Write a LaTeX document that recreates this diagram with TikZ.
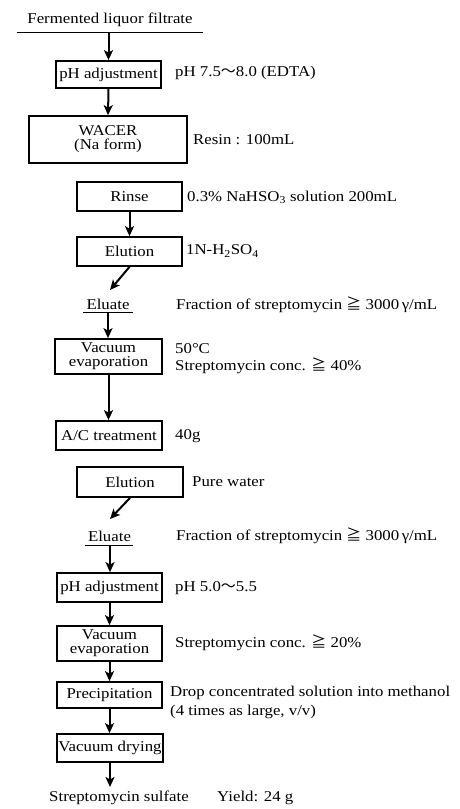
\documentclass[tikz,border=0pt]{standalone}
\usepackage{fontspec}
\setmainfont{Liberation Serif}[FakeStretch=1.12]
\newfontfamily\cjk{Noto Sans CJK JP}
\usetikzlibrary{arrows.meta}
\newcommand{\wave}{{\cjk 〜}}
\newcommand{\geqq}{{\cjk ≧}}
\begin{document}
\begin{tikzpicture}[x=1pt,y=-1pt,
  font=\fontsize{15}{14}\selectfont,
  box/.style={draw, line width=1.7pt, inner sep=0pt, align=center, minimum width=105pt},
  lbl/.style={anchor=west, inner sep=0pt, align=left},
  txt/.style={inner sep=0pt, align=center},
  arr/.style={line width=2pt, -{Stealth[length=10pt,width=9pt,inset=2.5pt]}},
  uline/.style={line width=1pt}]
\useasboundingbox (0,0) rectangle (460,809);

% top
\node[txt] (feed) at (110,20) {Fermented liquor filtrate};
\coordinate (fl) at (17,32);
\coordinate (fr) at (203,32);
\coordinate (fa) at (108.5,33);
\draw[uline] (fl) -- (fr);

% boxes
\node[box, minimum height=27pt] (ph1) at (108.5,74.5) {pH adjustment};
\node[box, minimum width=158pt, minimum height=47pt] (wacer) at (108,139.5) {WACER\\(Na form)};
\node[box, minimum height=29pt] (rinse) at (129.5,196.5) {Rinse};
\node[box, minimum height=29pt] (elu1) at (129.5,251.5) {Elution};
\node[txt] (eluate1) at (108,304) {Eluate};
\coordinate (e1a) at (110,290);
\coordinate (e1l) at (83,312);
\coordinate (e1r) at (133,312);
\coordinate (e1b) at (108,313);
\draw[uline] (e1l) -- (e1r);
\node[box, minimum width=107pt, minimum height=35pt] (vac1) at (108.5,356.5) {Vacuum\\evaporation};
\node[box, minimum width=106pt, minimum height=29pt] (ac) at (109,435.5) {A/C treatment};
\node[box, minimum width=106pt, minimum height=30pt] (elu2) at (130,482) {Elution};
\node[txt] (eluate2) at (109.5,536) {Eluate};
\coordinate (e2a) at (110,519);
\coordinate (e2l) at (85,545);
\coordinate (e2r) at (133,545);
\coordinate (e2b) at (110,545);
\draw[uline] (e2l) -- (e2r);
\node[box, minimum height=29pt] (ph2) at (109.5,587.5) {pH adjustment};
\node[box, minimum height=35pt] (vac2) at (109.5,643.5) {Vacuum\\evaporation};
\node[box, minimum height=26pt] (prec) at (109.5,695) {Precipitation};
\node[box, minimum width=106pt, minimum height=28pt] (dry) at (110,748) {Vacuum drying};
\node[txt] (prod) at (119,798) {Streptomycin sulfate};
\coordinate (pa) at (110,787);

% arrows
\draw[arr] (fa) -- (ph1.north);
\draw[arr] (ph1.south) -- (wacer.north);
\draw[arr] (rinse.south) -- (elu1.north);
\draw[arr] (elu1.south) -- (e1a);
\draw[arr] (e1b) -- (e1b |- vac1.north);
\draw[arr] (vac1.south) -- (vac1.south |- ac.north);
\draw[arr] (elu2.south) -- (e2a);
\draw[arr] (e2b) -- (e2b |- ph2.north);
\draw[arr] (ph2.south) -- (vac2.north);
\draw[arr] (vac2.south) -- (prec.north);
\draw[arr] (prec.south) -- (prec.south |- dry.north);
\draw[arr] (dry.south) -- (pa);

% right-hand labels
\node[lbl] (l1) at (175,73) {pH 7.5\wave8.0 (EDTA)};
\node[lbl] (l2) at (193,140) {Resin : 100mL};
\node[lbl] (l3) at (187,197) {0.3\% NaHSO\textsubscript{3} solution 200mL};
\node[lbl] (l4) at (186,251) {1N-H\textsubscript{2}SO\textsubscript{4}};
\node[lbl] (l5) at (176,305) {Fraction of streptomycin \geqq\ 3000\,γ/mL};
\node[lbl] (l6a) at (175,349) {50°C};
\node[lbl] (l6b) at (175,366) {Streptomycin conc. \geqq\ 40\%};
\node[lbl] (l7) at (175,436) {40g};
\node[lbl] (l8) at (192,482) {Pure water};
\node[lbl] (l9) at (176,536) {Fraction of streptomycin \geqq\ 3000\,γ/mL};
\node[lbl] (l10) at (175,588) {pH 5.0\wave5.5};
\node[lbl] (l11) at (175,643) {Streptomycin conc. \geqq\ 20\%};
\node[lbl] (l12a) at (170,693) {Drop concentrated solution into methanol};
\node[lbl] (l12b) at (170,712) {(4 times as large, v/v)};
\node[lbl] (l13) at (217,798) {Yield: 24 g};
\end{tikzpicture}
\end{document}
